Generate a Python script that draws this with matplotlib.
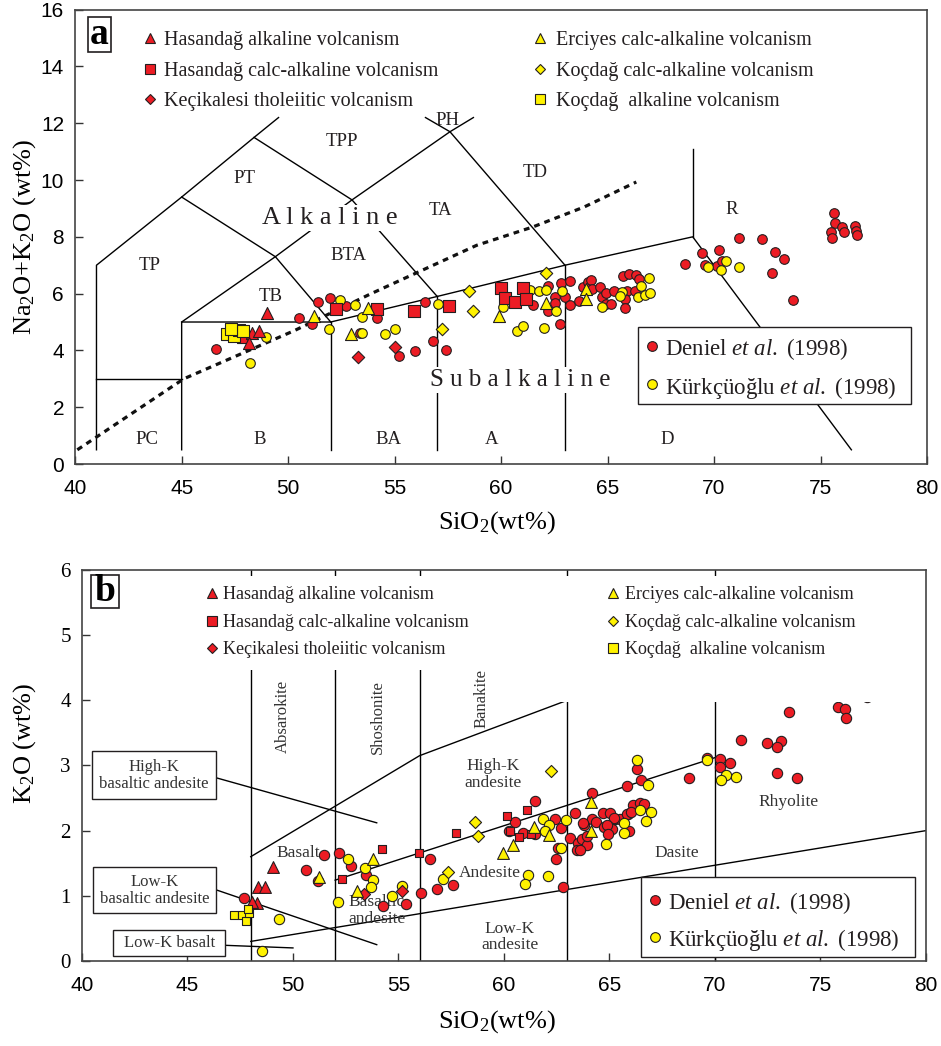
import matplotlib
matplotlib.use('Agg')
import matplotlib.pyplot as plt
from matplotlib.patches import Rectangle

plt.rcParams['font.family'] = ['Liberation Serif', 'DejaVu Serif']
plt.rcParams['mathtext.fontset'] = 'custom'
plt.rcParams['mathtext.rm'] = 'Liberation Serif'
plt.rcParams['mathtext.it'] = 'Liberation Serif:italic'
plt.rcParams['mathtext.bf'] = 'Liberation Serif:bold'

RED = '#ec1c24'
YEL = '#fff200'
EDGE = '#231f20'
NARROW = ['Liberation Sans Narrow', 'Liberation Sans', 'DejaVu Sans']

# ---------------- TAS data (SiO2, Na2O+K2O) ----------------
a_hal_sio2 = [49.0, 47.86, 48.28, 48.65, 48.17]
a_hal_alk = [5.3, 4.48, 4.6, 4.68, 4.25]
a_hca_sio2 = [52.24, 54.15, 55.9, 57.57, 59.99, 61.01, 60.2, 60.65, 61.16]
a_hca_alk = [5.46, 5.46, 5.38, 5.56, 6.21, 6.21, 5.86, 5.69, 5.8]
a_kec_sio2 = [53.29, 55.0]
a_kec_alk = [3.76, 4.11]
a_erc_sio2 = [51.23, 52.96, 53.76, 59.88, 62.1, 64.01, 64.01]
a_erc_alk = [5.22, 4.58, 5.5, 5.21, 5.68, 6.15, 5.8]
a_kca_sio2 = [58.5, 58.69, 57.24, 62.1]
a_kca_alk = [6.1, 5.38, 4.74, 6.71]
a_kal_sio2 = [47.12, 47.48, 47.7, 47.88, 47.3]
a_kal_alk = [4.57, 4.52, 4.72, 4.69, 4.74]

a_den_sio2 = [46.61, 50.52, 51.14, 51.38, 51.95, 52.7, 54.15, 56.42, 56.79, 57.41,
              55.97, 55.2, 53.37, 62.18, 62.8, 63.25, 62.52, 62.99, 62.52, 62.21,
              63.25, 62.75, 61.51, 63.67, 63.85, 64.09, 64.24, 64.27, 64.64, 64.76,
              64.94, 64.92, 65.18, 65.31, 65.71, 66.0, 66.33, 66.49, 65.92, 66.28,
              65.81, 65.81, 68.66, 69.44, 70.22, 69.57, 70.14, 70.39, 71.17, 72.26,
              72.86, 73.3, 72.71, 73.72, 75.62, 75.67, 75.51, 75.56, 76.01, 76.09,
              76.61, 76.68, 76.73]
a_den_alk = [4.04, 5.15, 4.92, 5.72, 5.86, 5.56, 5.13, 5.69, 4.34, 4.01,
             3.99, 3.8, 4.6, 6.28, 6.36, 6.45, 5.87, 5.89, 5.68, 5.4,
             5.6, 4.93, 5.6, 5.75, 6.24, 6.42, 6.48, 6.15, 6.24, 5.89,
             6.03, 5.63, 5.63, 6.1, 6.62, 6.68, 6.65, 6.51, 6.1, 6.1,
             5.8, 5.5, 7.04, 7.44, 7.54, 7.01, 6.98, 7.15, 7.97, 7.94,
             7.45, 7.23, 6.74, 5.77, 8.85, 8.5, 8.16, 7.97, 8.36, 8.17,
             8.38, 8.22, 8.06]
a_kur_sio2 = [48.96, 48.23, 52.43, 53.16, 53.49, 51.92, 53.45, 54.57, 55.0, 57.05,
              61.38, 61.77, 62.13, 62.88, 62.6, 60.1, 60.77, 61.01, 62.01, 64.76,
              65.66, 65.58, 66.59, 66.95, 66.44, 66.75, 66.98, 69.73, 70.35, 70.55,
              71.17]
a_kur_alk = [4.48, 3.55, 5.77, 5.6, 5.17, 4.76, 4.6, 4.59, 4.75, 5.63,
             6.13, 6.1, 6.13, 6.1, 5.39, 5.54, 4.69, 4.87, 4.78, 5.54,
             6.07, 5.92, 6.27, 6.54, 5.89, 5.95, 6.03, 6.92, 6.83, 7.16,
             6.95]

# ---------------- K2O data (SiO2, K2O) ----------------
b_hal_sio2 = [49.04, 48.36, 48.67, 48.28, 48.04]
b_hal_k2o = [1.44, 1.13, 1.13, 0.89, 0.9]
b_hca_sio2 = [54.2, 52.34, 55.99, 57.73, 60.13, 61.11, 60.28, 60.71, 61.28]
b_hca_k2o = [1.72, 1.26, 1.66, 1.96, 2.23, 2.31, 2.0, 1.9, 1.95]
b_kec_sio2 = [53.38, 55.15]
b_kec_k2o = [1.02, 1.07]
b_erc_sio2 = [51.23, 53.81, 53.02, 59.97, 60.41, 61.42, 62.15, 64.12, 64.12]
b_erc_k2o = [1.29, 1.57, 1.08, 1.66, 1.78, 2.05, 1.94, 2.44, 2.0]
b_kca_sio2 = [62.21, 58.63, 58.78, 57.33]
b_kca_k2o = [2.91, 2.13, 1.91, 1.36]
b_kal_sio2 = [47.2, 47.57, 47.76, 47.93, 47.85]
b_kal_k2o = [0.7, 0.71, 0.62, 0.73, 0.8]

b_den_sio2 = [47.69, 51.48, 52.2, 50.6, 52.73, 53.46, 54.25, 55.36, 51.2, 56.05,
              56.49, 56.81, 57.6, 60.52, 61.47, 62.42, 62.69, 62.58, 62.46, 62.81,
              63.13, 63.36, 63.49, 63.47, 63.7, 63.79, 64.19, 64.16, 64.35, 63.92,
              64.68, 65.02, 64.74, 65.1, 65.26, 65.5, 65.81, 65.89, 60.92, 60.22,
              61.47, 73.52, 75.84, 76.16, 76.21, 71.22, 72.45, 73.13, 72.95, 72.92,
              73.87, 69.61, 70.24, 70.24, 70.71, 68.77, 66.32, 66.49, 66.1, 66.45,
              66.65, 65.23, 65.84, 66.0, 64.87, 63.76, 64.94, 65.94, 63.92, 63.6,
              77.2]
b_den_k2o = [0.96, 1.62, 1.66, 1.39, 1.45, 1.32, 0.85, 0.88, 1.22, 1.04,
             1.57, 1.11, 1.17, 2.14, 2.45, 2.18, 2.04, 1.73, 1.57, 1.14,
             1.88, 2.27, 1.81, 1.71, 1.87, 2.09, 2.57, 2.18, 2.13, 1.78,
             2.27, 2.27, 2.06, 2.02, 2.18, 2.18, 2.68, 2.25, 1.96, 2.0,
             1.95, 3.82, 3.9, 3.86, 3.73, 3.39, 3.35, 3.37, 3.28, 2.89,
             2.8, 3.12, 3.1, 2.98, 3.04, 2.81, 2.94, 2.77, 2.39, 2.43,
             2.41, 2.2, 2.26, 2.28, 2.09, 2.11, 1.95, 1.99, 1.91, 1.71,
             4.05]
b_kur_sio2 = [52.62, 53.41, 53.78, 53.68, 54.68, 55.18, 52.12, 49.35, 48.52, 57.12,
              61.12, 61.0, 62.1, 61.83, 62.13, 61.94, 62.94, 62.69, 64.83, 65.69,
              65.69, 66.32, 69.64, 70.52, 70.28, 70.98, 66.81, 66.45, 66.97, 66.73]
b_kur_k2o = [1.57, 1.43, 1.25, 1.13, 1.0, 1.15, 0.9, 0.65, 0.15, 1.26,
             1.32, 1.18, 1.31, 2.18, 2.08, 1.99, 2.17, 1.74, 1.8, 2.11,
             1.97, 3.08, 3.08, 2.85, 2.77, 2.83, 2.7, 2.32, 2.29, 2.15]

group_labels = ['Hasandağ alkaline volcanism', 'Hasandağ calc-alkaline volcanism',
                'Keçikalesi tholeiitic volcanism', 'Erciyes calc-alkaline volcanism',
                'Koçdağ calc-alkaline volcanism', 'Koçdağ  alkaline volcanism']
source_labels = [r'Deniel $\it{et\ al.}$ (1998)', r'Kürkçüoğlu $\it{et\ al.}$ (1998)']

# ---------------- classification boundaries ----------------
tas_lines = [
    [(41, 0.5), (41, 7), (45, 9.4), (48.4, 11.5), (49.55, 12.2)],
    [(41, 3), (45, 3)],
    [(45, 0.5), (45, 5), (52, 5), (57, 5.9), (63, 7), (69, 8), (76.45, 0.5)],
    [(45, 5), (49.4, 7.3), (52, 5)],
    [(45, 9.4), (49.4, 7.3), (53, 9.3), (57.6, 11.7), (58.7, 12.2)],
    [(48.4, 11.5), (53, 9.3), (57, 5.9)],
    [(56.45, 12.2), (57.6, 11.7), (63, 7)],
    [(52, 0.5), (52, 5)],
    [(57, 0.5), (57, 5.9)],
    [(63, 0.5), (63, 7)],
    [(69, 8), (69, 11.1)],
]
alk_divider = [(40.1, 0.5), (45.1, 3.0), (50.3, 4.7), (53.9, 6.0), (58.85, 7.7),
               (61.5, 8.35), (63.9, 9.05), (66.35, 9.93)]

tas_fields = [('TP', 43.5, 7.0), ('PT', 47.97, 10.07), ('TPP', 52.53, 11.37),
              ('PH', 57.5, 12.08), ('TD', 61.6, 10.25), ('TA', 57.13, 8.94),
              ('BTA', 52.81, 7.34), ('TB', 49.19, 5.9), ('R', 70.84, 8.96),
              ('PC', 43.38, 0.88), ('B', 48.66, 0.88), ('BA', 54.71, 0.88),
              ('A', 59.57, 0.88), ('D', 67.79, 0.88)]

k2o_verticals = [48, 52, 56, 63, 70]
k2o_lines = [
    [(48, 1.6), (56, 3.15), (63, 4.0)],
    [(52, 1.24), (70, 3.12)],
    [(48, 0.3), (80, 2.0)],
    [(46.37, 2.81), (53.97, 2.12)],
    [(46.37, 1.09), (53.97, 0.25)],
    [(46.8, 0.24), (50.0, 0.2)],
]
k2o_fields = [('High-K\nandesite', 59.5, 2.86), ('Andesite', 59.34, 1.35),
              ('Basaltic\nandesite', 53.97, 0.77), ('Low-K\nandesite', 60.28, 0.37),
              ('Basalt', 50.25, 1.66), ('Dasite', 68.18, 1.66), ('Rhyolite', 73.47, 2.44)]
k2o_rotated = [('Absarokite', 49.53, 3.75), ('Shoshonite', 54.03, 3.75), ('Banakite', 58.93, 4.03)]
# boxed labels: text, x0, x1, y0, y1
k2o_boxes = [('High-K\nbasaltic andesite', 40.46, 46.37, 2.48, 3.22),
             ('Low-K\nbasaltic andesite', 40.54, 46.37, 0.73, 1.44),
             ('Low-K basalt', 41.48, 46.8, 0.07, 0.48)]

fig = plt.figure(figsize=(9.41, 10.46), dpi=100)
ax_a = fig.add_axes([0.0799, 0.5564, 0.9052, 0.4344])
ax_b = fig.add_axes([0.0871, 0.0813, 0.8969, 0.3738])


def style_axes(ax, ymax, ystep, serif_y):
    ax.set_xlim(40, 80)
    ax.set_ylim(0, ymax)
    ax.set_xticks(range(40, 81, 5))
    ax.set_yticks([v * ystep for v in range(int(ymax / ystep) + 1)])
    ax.tick_params(direction='in', length=6, width=1, color='#333333', labelsize=15)
    ax.tick_params(axis='x', pad=11)
    ax.tick_params(axis='y', pad=8)
    for lbl in ax.get_xticklabels():
        lbl.set_family(NARROW)
    if not serif_y:
        for lbl in ax.get_yticklabels():
            lbl.set_family(NARROW)
    for sp in ax.spines.values():
        sp.set_color('#444444')
        sp.set_linewidth(1.2)


def draw_points(ax, den, kur, groups, sizes):
    ax.scatter(den[0], den[1], s=sizes['o'], c=RED, edgecolors=EDGE, linewidths=0.8, zorder=4)
    ax.scatter(kur[0], kur[1], s=sizes['o'], c=YEL, edgecolors=EDGE, linewidths=0.8, zorder=4.1)
    for (xs, ys, mk, col) in groups:
        ax.scatter(xs, ys, s=sizes[mk], c=col, marker=mk, edgecolors=EDGE, linewidths=0.8, zorder=5)


def group_legend(ax, xs, ys, fs):
    markers = [('^', RED, 7.5), ('s', RED, 6.5), ('D', RED, 5.5),
               ('^', YEL, 7.5), ('D', YEL, 5.5), ('s', YEL, 6.5)]
    for i, (mk, col, ms) in enumerate(markers):
        mx, tx = xs[i // 3]
        y = ys[i % 3]
        ax.plot([mx], [y], marker=mk, ms=ms, mfc=col, mec=EDGE, mew=0.8, ls='none',
                transform=ax.transAxes, clip_on=False, zorder=7)
        ax.text(tx, y, group_labels[i], transform=ax.transAxes, ha='left',
                va='center_baseline', fontsize=fs, color='#231f20', zorder=7)


def source_legend(ax, box, mx, tx, ys, fs):
    x0, x1, y0, y1 = box
    ax.add_patch(Rectangle((x0, y0), x1 - x0, y1 - y0, transform=ax.transAxes,
                           facecolor='white', edgecolor='#231f20', lw=1.0, zorder=6))
    for col, y, lbl in zip([RED, YEL], ys, source_labels):
        ax.plot([mx], [y], marker='o', ms=7, mfc=col, mec=EDGE, mew=0.8, ls='none',
                transform=ax.transAxes, zorder=7)
        ax.text(tx, y, lbl, transform=ax.transAxes, ha='left', va='center_baseline',
                fontsize=fs, color='#231f20', zorder=7)


def panel_tag(ax, letter, rect, center, fs):
    ax.add_patch(Rectangle(rect[:2], rect[2], rect[3], transform=ax.transAxes,
                           facecolor='white', edgecolor='#231f20', lw=1.2, zorder=7))
    ax.text(center[0], center[1], letter, transform=ax.transAxes, ha='center',
            va='center', fontsize=fs, fontweight='bold', zorder=8)


# ---------------- panel a: TAS ----------------
style_axes(ax_a, 16, 2, serif_y=False)
for seg in tas_lines:
    ax_a.plot([p[0] for p in seg], [p[1] for p in seg], color='black', lw=1.0, zorder=2)
ax_a.plot([p[0] for p in alk_divider], [p[1] for p in alk_divider], color='#111111',
          lw=2.3, ls=(0, (1.8, 1.6)), zorder=2)
for name, x, y in tas_fields:
    ax_a.text(x, y, name, ha='center', va='center', fontsize=13.5, color='#231f20', zorder=3)
ax_a.text(51.96, 8.66, 'A l k a l i n e', ha='center', va='center', fontsize=19,
          color='#231f20', zorder=3,
          bbox=dict(facecolor='white', edgecolor='none', pad=1.5))
ax_a.text(60.88, 2.96, 'S u b a l k a l i n e', ha='center', va='center', fontsize=18,
          color='#231f20', zorder=3,
          bbox=dict(facecolor='white', edgecolor='none', pad=1.5))

sizes_a = {'o': 48, '^': 75, 's': 68, 'D': 40}
draw_points(ax_a, (a_den_sio2, a_den_alk), (a_kur_sio2, a_kur_alk),
            [(a_hal_sio2, a_hal_alk, '^', RED), (a_hca_sio2, a_hca_alk, 's', RED),
             (a_kec_sio2, a_kec_alk, 'D', RED), (a_erc_sio2, a_erc_alk, '^', YEL),
             (a_kca_sio2, a_kca_alk, 'D', YEL), (a_kal_sio2, a_kal_alk, 's', YEL)],
            sizes_a)

group_legend(ax_a, [(0.0878, 0.104), (0.5457, 0.5645)], [0.9375, 0.8693, 0.803], 14.5)
source_legend(ax_a, (0.6607, 0.9812, 0.132, 0.3015), 0.677, 0.692, [0.2597, 0.176], 16.5)
panel_tag(ax_a, 'a', (0.015, 0.9067, 0.027, 0.077), (0.0285, 0.945), 27)

ax_a.set_ylabel(r'Na$_2$O+K$_2$O (wt%)', fontsize=19, ha='center', va='center')
ax_a.yaxis.set_label_coords(-0.059, 0.5)
ax_a.set_xlabel(r'SiO$_2$(wt%)', fontsize=19, ha='center', va='center')
ax_a.xaxis.set_label_coords(0.495, -0.128)

# ---------------- panel b: K2O ----------------
style_axes(ax_b, 6, 1, serif_y=True)
for xv in k2o_verticals:
    ax_b.plot([xv, xv], [0, 6], color='black', lw=1.0, zorder=2)
for seg in k2o_lines:
    ax_b.plot([p[0] for p in seg], [p[1] for p in seg], color='black', lw=1.0, zorder=2)
# blank area behind the group legend
ax_b.add_patch(Rectangle((44.5, 4.47), 14.5, 1.43, facecolor='white', edgecolor='none', zorder=4.5))
ax_b.add_patch(Rectangle((59.0, 3.98), 19.5, 1.92, facecolor='white', edgecolor='none', zorder=4.5))

for name, x, y in k2o_fields:
    ax_b.text(x, y, name, ha='center', va='center', fontsize=12.5, color='#333333',
              linespacing=1.05, zorder=3)
for name, x, y in k2o_rotated:
    ax_b.text(x, y, name, ha='center', va='center', fontsize=12, rotation=90,
              color='#333333', zorder=5)
for name, x0, x1, y0, y1 in k2o_boxes:
    ax_b.add_patch(Rectangle((x0, y0), x1 - x0, y1 - y0, facecolor='white',
                             edgecolor='#231f20', lw=1.0, zorder=3))
    ax_b.text((x0 + x1) / 2, (y0 + y1) / 2, name, ha='center', va='center',
              fontsize=12, color='#333333', linespacing=1.1, zorder=3.5)

sizes_b = {'o': 55, '^': 72, 's': 40, 'D': 38}
draw_points(ax_b, (b_den_sio2, b_den_k2o), (b_kur_sio2, b_kur_k2o),
            [(b_hal_sio2, b_hal_k2o, '^', RED), (b_hca_sio2, b_hca_k2o, 's', RED),
             (b_kec_sio2, b_kec_k2o, 'D', RED), (b_erc_sio2, b_erc_k2o, '^', YEL),
             (b_kca_sio2, b_kca_k2o, 'D', YEL), (b_kal_sio2, b_kal_k2o, 's', YEL)],
            sizes_b)

group_legend(ax_b, [(0.1537, 0.167), (0.6291, 0.6433)], [0.9412, 0.8696, 0.8005], 13)
source_legend(ax_b, (0.6623, 0.987, 0.0102, 0.2148), 0.679, 0.694, [0.156, 0.0614], 16.5)
panel_tag(ax_b, 'b', (0.0103, 0.902, 0.0339, 0.085), (0.0273, 0.9445), 27)

ax_b.set_ylabel(r'K$_2$O (wt%)', fontsize=19, ha='center', va='center')
ax_b.yaxis.set_label_coords(-0.0675, 0.5575)
ax_b.set_xlabel(r'SiO$_2$(wt%)', fontsize=19, ha='center', va='center')
ax_b.xaxis.set_label_coords(0.4917, -0.156)

fig.savefig('out.png', dpi=100)
